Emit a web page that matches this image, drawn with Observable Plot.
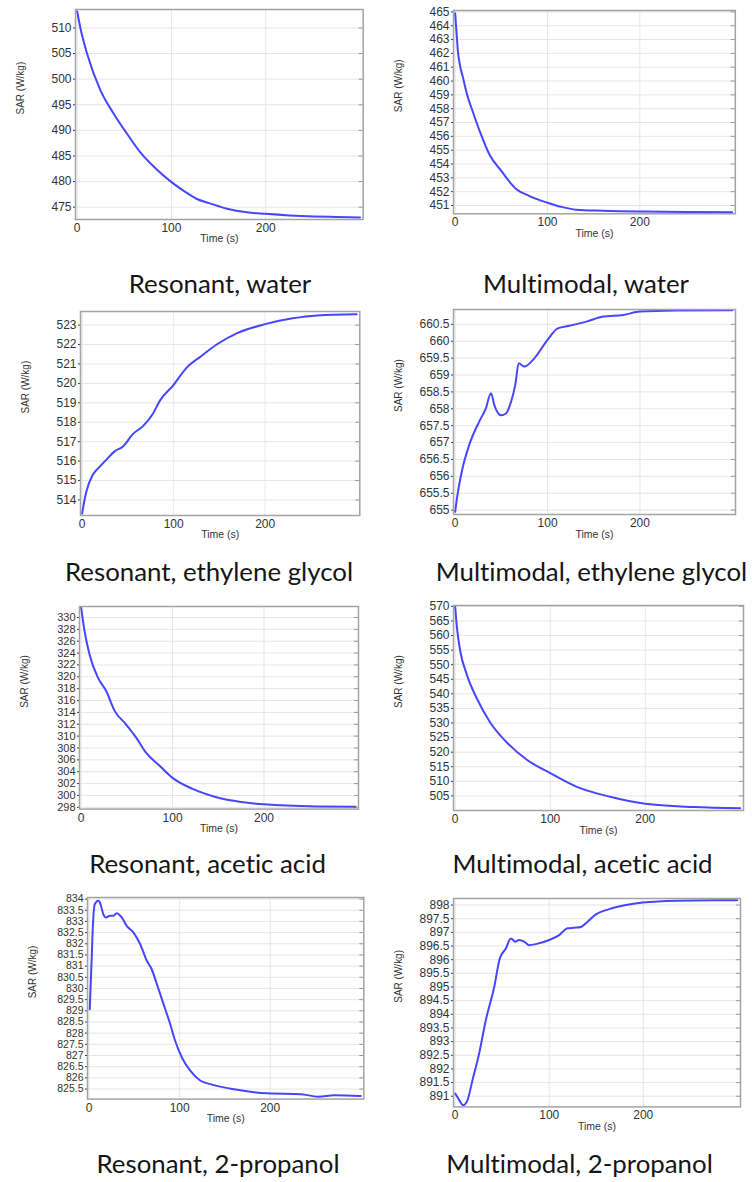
<!DOCTYPE html>
<html>
<head>
<meta charset="utf-8">
<script src="https://cdn.jsdelivr.net/npm/d3@7"></script>
<script src="https://cdn.jsdelivr.net/npm/@observablehq/plot@0.6"></script>
<style>
  body { margin: 0; background: #fff; }
  #root { position: relative; width: 752px; height: 1182px; overflow: hidden; background: #fff; }
  .panel { position: absolute; }
  .cap { position: absolute; font-family: Lato, "Open Sans", sans-serif; color: #151515; white-space: nowrap; transform: translate(-50%, -50%); line-height: 1; font-variant-ligatures: none; }
</style>
</head>
<body>
<div id="root"></div>
<script>
// ---------- shared axis values ----------
const xTicks = [0, 100, 200];
const xDomain = [-1.8, 303.4];

// ---------- Resonant, water ----------
const resWaterT = [0, 3.5, 10.6, 24.7, 38.9, 53, 67, 83, 100, 113, 127, 140, 159, 180, 200, 225, 251, 275, 300];
const resWaterV = [513.2, 509.9, 504.9, 497.8, 493.2, 489.3, 485.7, 482.6, 479.9, 478.2, 476.6, 475.8, 474.7, 474.0, 473.7, 473.4, 473.2, 473.1, 473.0];
const resWaterTicks = [475, 480, 485, 490, 495, 500, 505, 510];

// ---------- Multimodal, water ----------
const mmWaterT = [0, 1.5, 2.9, 5, 8.3, 13, 19, 27, 37, 50, 66, 80, 100, 115, 131, 160, 203, 250, 300];
const mmWaterV = [464.9, 463.5, 462.2, 461.2, 460.3, 459.0, 457.8, 456.3, 454.7, 453.5, 452.2, 451.7, 451.2, 450.9, 450.7, 450.62, 450.56, 450.53, 450.52];
const mmWaterTicks = [451, 452, 453, 454, 455, 456, 457, 458, 459, 460, 461, 462, 463, 464, 465];

// ---------- Resonant, ethylene glycol ----------
const resEgT = [0, 0.7, 4.4, 11.7, 19, 26, 35.5, 44.6, 55.6, 66.5, 77.5, 84.8, 99.5, 114, 130, 147, 170, 200, 230, 257, 300];
const resEgV = [513.3, 513.5, 514.4, 515.3, 515.7, 516.05, 516.5, 516.75, 517.4, 517.8, 518.45, 519.1, 519.9, 520.8, 521.4, 522.0, 522.6, 523.05, 523.35, 523.5, 523.56];
const resEgTicks = [514, 515, 516, 517, 518, 519, 520, 521, 522, 523];

// ---------- Multimodal, ethylene glycol ----------
const mmEgT = [0, 2.5, 8, 15.2, 26, 33, 38.8, 42.4, 49.6, 55, 60.5, 65, 68.8, 75, 84, 100, 111, 124, 142, 160, 182, 200, 240, 300];
const mmEgV = [654.95, 655.45, 656.24, 656.93, 657.62, 658.0, 658.46, 658.11, 657.81, 657.86, 658.21, 658.7, 659.35, 659.25, 659.44, 660.04, 660.38, 660.46, 660.58, 660.73, 660.78, 660.88, 660.91, 660.92];
const mmEgTicks = [655, 655.5, 656, 656.5, 657, 657.5, 658, 658.5, 659, 659.5, 660, 660.5];

// ---------- Resonant, acetic acid ----------
const resAcT = [0, 3.6, 9.1, 18.2, 27.4, 36.5, 49, 60, 71, 85.8, 99.6, 122, 148, 175, 200, 257, 300];
const resAcV = [331.7, 327.8, 323.8, 319.9, 317.6, 314.3, 312.0, 309.8, 307.2, 305.0, 303.0, 301.1, 299.7, 298.9, 298.5, 298.15, 298.1];
const resAcTicks = [298, 300, 302, 304, 306, 308, 310, 312, 314, 316, 318, 320, 322, 324, 326, 328, 330];

// ---------- Multimodal, acetic acid ----------
const mmAcT = [0, 1.8, 5.3, 12.3, 22.8, 36.8, 54.4, 75.4, 100, 128, 163, 200, 251, 300];
const mmAcV = [569.8, 562.8, 554.7, 546.5, 538.4, 530.2, 523.3, 517.4, 512.8, 508.1, 504.7, 502.3, 501.2, 500.8];
const mmAcTicks = [505, 510, 515, 520, 525, 530, 535, 540, 545, 550, 555, 560, 565, 570];

// ---------- Resonant, 2-propanol ----------
const resPrT = [0.7, 2.6, 4.4, 6.3, 10, 11.9, 15.6, 18.5, 23, 26.7, 30.4, 36, 41.5, 49, 56.3, 63.7, 69, 74.8, 82.2, 89.6, 95, 102.6, 111.9, 123, 134, 160, 197, 234, 252.6, 271, 300];
const resPrV = [829.07, 831.1, 833.0, 833.78, 833.93, 833.85, 833.33, 833.18, 833.25, 833.25, 833.37, 833.18, 832.8, 832.5, 831.99, 831.24, 830.87, 830.2, 829.3, 828.4, 827.66, 826.9, 826.31, 825.87, 825.72, 825.49, 825.31, 825.27, 825.16, 825.22, 825.19];
const resPrTicks = [825.5, 826, 826.5, 827, 827.5, 828, 828.5, 829, 829.5, 830, 830.5, 831, 831.5, 832, 832.5, 833, 833.5, 834];

// ---------- Multimodal, 2-propanol ----------
const mmPrT = [0, 4.3, 8.5, 13.1, 18.4, 25.5, 32.6, 41.5, 47.5, 53.9, 59.2, 63.8, 68, 73.4, 78.7, 85.8, 100, 110.6, 119.5, 126.6, 133.7, 140.8, 149.6, 163.8, 181.6, 199.3, 234.8, 300];
const mmPrV = [891.1, 890.86, 890.67, 890.86, 891.59, 892.57, 893.79, 895.0, 896.05, 896.41, 896.78, 896.66, 896.72, 896.66, 896.53, 896.57, 896.72, 896.9, 897.15, 897.17, 897.2, 897.39, 897.66, 897.85, 898.0, 898.09, 898.16, 898.18];
const mmPrTicks = [891, 891.5, 892, 892.5, 893, 893.5, 894, 894.5, 895, 895.5, 896, 896.5, 897, 897.5, 898];

// ---------- panels: data + layout ----------
const panels = [
  {t: resWaterT, v: resWaterV, ticks: resWaterTicks, yDomain: [472.6, 513.6], L: 75, R: 362.7, T: 9.3, B: 219.3, fs: 12, caption: "Resonant, water", cx: 220, cy: 284},
  {t: mmWaterT, v: mmWaterV, ticks: mmWaterTicks, yDomain: [450.4, 465.1], L: 452.7, R: 734.5, T: 10, B: 213.3, fs: 12, caption: "Multimodal, water", cx: 586, cy: 284},
  {t: resEgT, v: resEgV, ticks: resEgTicks, yDomain: [513.2, 523.7], L: 80, R: 359.3, T: 311, B: 515, fs: 12, caption: "Resonant, ethylene glycol", cx: 209, cy: 572},
  {t: mmEgT, v: mmEgV, ticks: mmEgTicks, yDomain: [654.87, 660.94], L: 453.3, R: 735.3, T: 309.3, B: 514.3, fs: 12, caption: "Multimodal, ethylene glycol", cx: 591.5, cy: 572},
  {t: resAcT, v: resAcV, ticks: resAcTicks, yDomain: [297.7, 331.85], L: 79.3, R: 358.3, T: 605.7, B: 808.3, fs: 11, caption: "Resonant, acetic acid", cx: 207.5, cy: 864},
  {t: mmAcT, v: mmAcV, ticks: mmAcTicks, yDomain: [500.0, 570.3], L: 452.7, R: 742.7, T: 605, B: 810, fs: 12, caption: "Multimodal, acetic acid", cx: 582.5, cy: 864},
  {t: resPrT, v: resPrV, ticks: resPrTicks, yDomain: [825.05, 834.07], L: 87, R: 363.3, T: 896.7, B: 1098.3, fs: 10.5, caption: "Resonant, 2-propanol", cx: 218, cy: 1164},
  {t: mmPrT, v: mmPrV, ticks: mmPrTicks, yDomain: [890.61, 898.24], L: 453.3, R: 740.3, T: 898.3, B: 1106.7, fs: 12, caption: "Multimodal, 2-propanol", cx: 579.5, cy: 1164}
];

const root = document.getElementById("root");
const mL = 70, mR = 8, mT = 8, mB = 36;

for (const p of panels) {
  const data = p.t.map((t, i) => ({t, v: p.v[i]}));
  const w = p.R - p.L, h = p.B - p.T;
  const chart = Plot.plot({
    width: w + mL + mR,
    height: h + mT + mB,
    marginLeft: mL, marginRight: mR, marginTop: mT, marginBottom: mB,
    style: {fontFamily: "'Liberation Sans', Arial, sans-serif", color: "#333", background: "transparent", overflow: "visible"},
    x: {domain: xDomain},
    y: {domain: p.yDomain},
    marks: [
      Plot.gridY(p.ticks, {stroke: "#e6e6e6", strokeOpacity: 1}),
      Plot.gridX(xTicks, {stroke: "#e6e6e6", strokeOpacity: 1}),
      Plot.tickY(p.ticks, {y: d => d, stroke: "#999", insetLeft: w - 4}),
      Plot.axisY(p.ticks, {tickSize: 2, tickPadding: 2, fontSize: p.fs, label: null, tickFormat: d => String(d)}),
      Plot.axisX(xTicks, {tickSize: 0, tickPadding: 4, fontSize: 12, label: null, tickFormat: d => String(d)}),
      Plot.text(["SAR (W/kg)"], {text: d => d, frameAnchor: "left", dx: -55, rotate: -90, fontSize: 10, fill: "#333"}),
      Plot.text(["Time (s)"], {text: d => d, frameAnchor: "bottom", dy: 23, fontSize: 10.5, fill: "#333"}),
      Plot.line(data, {x: "t", y: "v", stroke: "#4646ff", strokeWidth: 2, curve: "monotone-x"}),
      Plot.frame({stroke: "#a3a3a3", strokeWidth: 1.5})
    ]
  });
  const holder = document.createElement("div");
  holder.className = "panel";
  holder.style.left = (p.L - mL) + "px";
  holder.style.top = (p.T - mT) + "px";
  holder.appendChild(chart);
  root.appendChild(holder);
}

// captions: fit font size so the long caption matches the reference width
const fontFam = 'Lato, "Open Sans", sans-serif';
const ctx = document.createElement("canvas").getContext("2d");
ctx.font = "20px " + fontFam;
const refW = ctx.measureText("Resonant, ethylene glycol").width;
const capSize = 20 * 288 / refW;

for (const p of panels) {
  const c = document.createElement("div");
  c.className = "cap";
  c.textContent = p.caption;
  c.style.fontSize = capSize + "px";
  c.style.left = p.cx + "px";
  c.style.top = p.cy + "px";
  root.appendChild(c);
}
</script>
</body>
</html>
